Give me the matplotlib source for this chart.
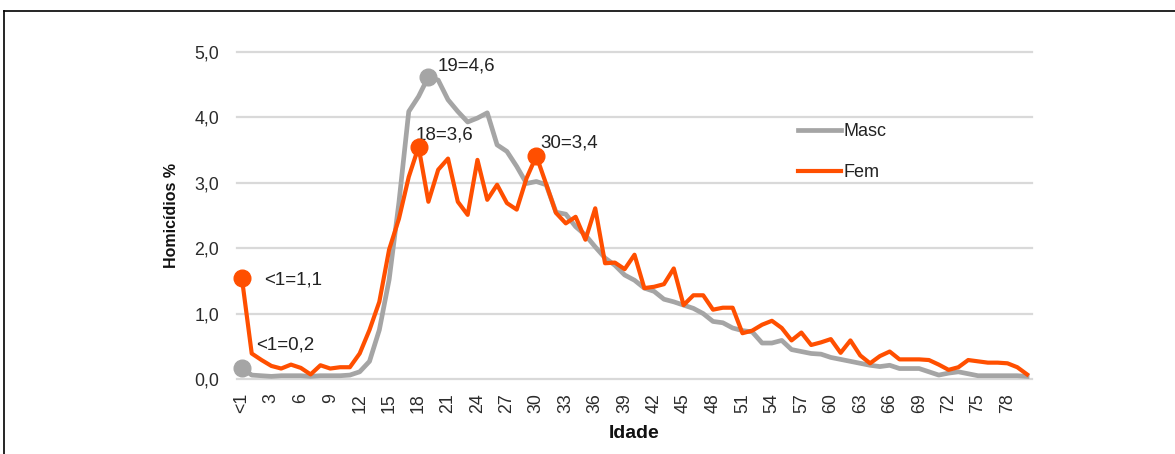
import matplotlib
matplotlib.use('Agg')
import matplotlib.pyplot as plt
from matplotlib.lines import Line2D

plt.rcParams['font.family'] = ['Liberation Sans', 'DejaVu Sans']

# ---------------- data ----------------
ages = ['<1'] + [str(a) for a in range(1, 81)]

masc = [0.17, 0.06, 0.05, 0.04, 0.05, 0.05, 0.05, 0.04, 0.05, 0.05,
        0.05, 0.06, 0.11, 0.27, 0.75, 1.52, 2.70, 4.09, 4.32, 4.62,
        4.57, 4.27, 4.09, 3.93, 3.99, 4.07, 3.58, 3.48, 3.25, 2.99,
        3.02, 2.97, 2.55, 2.52, 2.33, 2.20, 2.02, 1.85, 1.74, 1.59,
        1.51, 1.39, 1.34, 1.22, 1.18, 1.13, 1.08, 1.00, 0.88, 0.86,
        0.78, 0.74, 0.72, 0.55, 0.55, 0.59, 0.45, 0.42, 0.39, 0.38,
        0.33, 0.30, 0.27, 0.24, 0.21, 0.19, 0.21, 0.16, 0.16, 0.16,
        0.11, 0.06, 0.09, 0.11, 0.08, 0.05, 0.05, 0.05, 0.05, 0.05,
        0.04]

fem = [1.54, 0.39, 0.29, 0.20, 0.16, 0.22, 0.17, 0.07, 0.21, 0.16,
       0.18, 0.18, 0.39, 0.75, 1.18, 1.98, 2.45, 3.09, 3.55, 2.71,
       3.20, 3.37, 2.71, 2.51, 3.35, 2.74, 2.97, 2.69, 2.59, 3.07,
       3.41, 2.98, 2.54, 2.38, 2.48, 2.13, 2.61, 1.77, 1.78, 1.68,
       1.90, 1.39, 1.41, 1.45, 1.69, 1.13, 1.28, 1.28, 1.06, 1.09,
       1.09, 0.70, 0.74, 0.83, 0.89, 0.78, 0.59, 0.71, 0.52, 0.56,
       0.61, 0.40, 0.59, 0.36, 0.24, 0.35, 0.42, 0.30, 0.30, 0.30,
       0.29, 0.22, 0.14, 0.18, 0.29, 0.27, 0.25, 0.25, 0.24, 0.18,
       0.07]

series_names = ['Masc', 'Fem']
y_ticks = [0, 1, 2, 3, 4, 5]
y_ticklabels = ['0,0', '1,0', '2,0', '3,0', '4,0', '5,0']
tick_step = 3

# highlighted points: (index, label, text offset in pixels)
masc_marks = [(0, '<1=0,2', (14, 23)), (19, '19=4,6', (9, 11))]
fem_marks = [(0, '<1=1,1', (22, -2)), (18, '18=3,6', (-3, 12)), (30, '30=3,4', (4, 13))]

# ---------------- style ----------------
C_MASC = '#a5a5a5'
C_FEM = '#ff4f00'
C_TEXT = '#222222'
C_GRID = '#d9d9d9'

W, H = 1175, 454
fig = plt.figure(figsize=(W / 100, H / 100), dpi=100)
ax = fig.add_axes([237 / W, 1 - 379 / H, (1032 - 237) / W, (379 - 52) / H])

x = list(range(len(ages)))
ax.set_xlim(-0.5, len(ages) - 0.5)
ax.set_ylim(0, 5)
for s in ax.spines.values():
    s.set_visible(False)

ax.set_yticks(y_ticks)
ax.set_yticklabels(y_ticklabels)
ax.yaxis.grid(True, color=C_GRID, lw=1.6)
for gl in ax.get_ygridlines():
    gl.set_clip_on(False)
ax.set_axisbelow(True)

ax.set_xticks(x[::tick_step])
ax.set_xticklabels(ages[::tick_step], rotation=90)
ax.tick_params(length=0, labelsize=12.8, colors='#2b2b2b')
ax.tick_params(axis='y', pad=13)
ax.tick_params(axis='x', pad=10)

l_m, = ax.plot(x, masc, color=C_MASC, lw=3.4, solid_joinstyle='round',
               clip_on=False, zorder=3)
l_f, = ax.plot(x, fem, color=C_FEM, lw=3.0, solid_joinstyle='round',
               clip_on=False, zorder=4)

for idx, lab, (dx, dy) in masc_marks:
    ax.plot([x[idx]], [masc[idx]], 'o', color=C_MASC, ms=12, clip_on=False, zorder=5)
    ax.annotate(lab, xy=(x[idx], masc[idx]), xytext=(dx, dy),
                textcoords='offset pixels', ha='left', va='center',
                fontsize=13.5, color=C_TEXT)
for idx, lab, (dx, dy) in fem_marks:
    ax.plot([x[idx]], [fem[idx]], 'o', color=C_FEM, ms=12, clip_on=False, zorder=6)
    ax.annotate(lab, xy=(x[idx], fem[idx]), xytext=(dx, dy),
                textcoords='offset pixels', ha='left', va='center',
                fontsize=13.5, color=C_TEXT)

leg = ax.legend([l_m, l_f], series_names, loc='upper left',
                bbox_to_anchor=(798 / W, 1 - 123 / H), bbox_transform=fig.transFigure,
                frameon=False, handlelength=2.4, handletextpad=0.1,
                labelspacing=1.35, fontsize=13, borderpad=0, borderaxespad=0)
for t in leg.get_texts():
    t.set_color(C_TEXT)

fig.text(172 / W, 1 - 216 / H, 'Homicídios %', rotation=90, fontweight='bold',
         fontsize=11.5, ha='center', va='center', color='#111111')
fig.text(634 / W, 1 - 434 / H, 'Idade', fontweight='bold', fontsize=14,
         ha='center', va='center', color='#111111')

# outer frame
fig.add_artist(Line2D([3.5 / W, 3.5 / W], [0, 1 - 10.5 / H], transform=fig.transFigure,
                      color='black', lw=1.2))
fig.add_artist(Line2D([3.5 / W, 1], [1 - 10.5 / H, 1 - 10.5 / H], transform=fig.transFigure,
                      color='black', lw=1.2))

fig.savefig('out.png', dpi=100)
